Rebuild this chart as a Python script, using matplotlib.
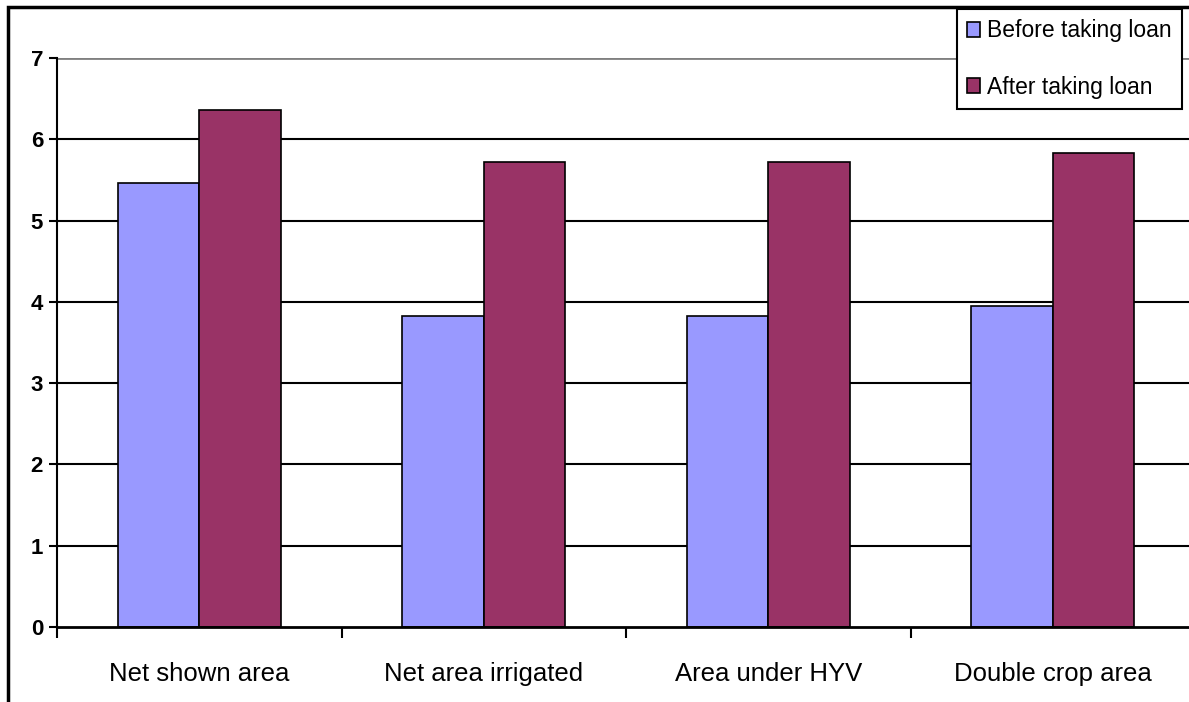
import numpy as np
import matplotlib.pyplot as plt
from matplotlib.patches import Rectangle

categories = ["Net shown area", "Net area irrigated", "Area under HYV", "Double crop area"]
before_loan = [5.46, 3.83, 3.83, 3.95]
after_loan = [6.36, 5.72, 5.72, 5.83]
series_names = ["Before taking loan", "After taking loan"]
yticks = [0, 1, 2, 3, 4, 5, 6, 7]

plt.rcParams['font.family'] = ['Liberation Sans Narrow', 'Liberation Sans', 'DejaVu Sans']
plt.rcParams['patch.linewidth'] = 1.5

W, H = 1189, 702
fig = plt.figure(figsize=(W / 100, H / 100), dpi=100)

# plot area in pixel terms, the right edge runs a little past the figure
left, top, bottom, right = 57, 58, 627, 1195
ax = fig.add_axes([left / W, (H - bottom) / H, (right - left) / W, (bottom - top) / H])

x = np.arange(len(categories))
w = 1 / 3.5
ax.bar(x - w / 2, before_loan, w, color="#9999FF", edgecolor="black", linewidth=1.2,
       label=series_names[0], zorder=3)
ax.bar(x + w / 2, after_loan, w, color="#993366", edgecolor="black", linewidth=1.2,
       label=series_names[1], zorder=3)

ax.set_xlim(-0.5, len(categories) - 0.5)
ax.set_ylim(0, 7)

for y in yticks[1:-1]:
    ax.axhline(y, color="black", linewidth=1.5, zorder=1)
ax.axhline(7, color="#808080", linewidth=2, zorder=1)

for s in ["top", "right"]:
    ax.spines[s].set_visible(False)
ax.spines["left"].set_linewidth(1.5)
ax.spines["bottom"].set_linewidth(2)
ax.spines["bottom"].set_zorder(4)

ax.set_yticks(yticks)
ax.set_yticklabels([str(v) for v in yticks], fontsize=16, fontweight="bold")
ax.tick_params(axis="y", length=6, width=1.5, pad=4)

# category labels between boundary ticks
ax.set_xticks(np.arange(len(categories)) - 0.5)
ax.set_xticklabels([])
ax.tick_params(axis="x", length=8, width=1.5)
for i, c in enumerate(categories):
    ax.text(i, -0.58, c, ha="center", va="center", fontsize=18.5,
            transform=ax.transData)

# outer chart frame
fig.patches.append(Rectangle((8 / W, -0.05), 1.2, (H - 7) / H + 0.05,
                             transform=fig.transFigure, fill=False,
                             edgecolor="black", linewidth=2.5))

leg = fig.legend(loc="upper left", bbox_to_anchor=(957 / W, 1 - 9 / H),
                 bbox_transform=fig.transFigure, fontsize=16.5, frameon=True,
                 fancybox=False, edgecolor="black", framealpha=1,
                 handlelength=0.55, handleheight=0.6, handletextpad=0.3,
                 borderpad=0.45, labelspacing=1.45, borderaxespad=0)
leg.get_frame().set_linewidth(1.5)

fig.savefig("out.png", dpi=100)
